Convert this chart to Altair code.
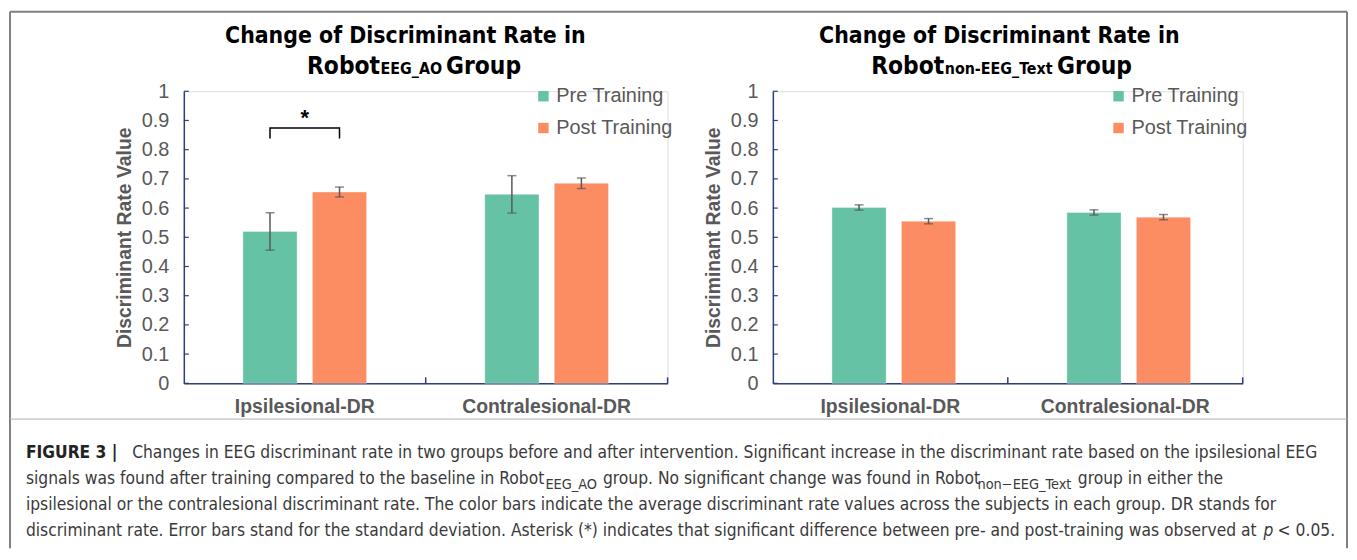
import altair as alt
import pandas as pd

# ---------------- data ----------------
categories = ["Ipsilesional-DR", "Contralesional-DR"]
phases = ["Pre Training", "Post Training"]
phase_colors = ["#66c2a5", "#fc8d62"]

ao_pre_mean = [0.520, 0.647]
ao_pre_sd = [0.064, 0.064]
ao_post_mean = [0.655, 0.685]
ao_post_sd = [0.017, 0.018]

text_pre_mean = [0.602, 0.585]
text_pre_sd = [0.009, 0.009]
text_post_mean = [0.555, 0.569]
text_post_sd = [0.009, 0.009]

y_tick_values = [0.0, 0.1, 0.2, 0.3, 0.4, 0.5, 0.6, 0.7, 0.8, 0.9, 1.0]

sig_category = "Ipsilesional-DR"
sig_low = 0.838
sig_high = 0.874
sig_star = 0.91

# ---------------- style ----------------
AXIS_COLOR = "#2f3e7e"
GRAY = "#595959"
FONT = "Liberation Sans, Arial, sans-serif"
NARROW = "Liberation Sans Narrow, DejaVu Sans Condensed, Liberation Sans, sans-serif"
H = 294

y_scale = alt.Scale(domain=[0, 1], nice=False, zero=True)
x_scale = alt.Scale(paddingInner=0, paddingOuter=0)
off_scale = alt.Scale(paddingInner=0.22, paddingOuter=0.85)

y_axis = alt.Axis(values=y_tick_values, format="~g", ticks=False,
                  labelOverlap=False, tickCount=11,
                  labelFontSize=20, labelColor=GRAY, labelFont=FONT,
                  labelPadding=15, domainColor=AXIS_COLOR,
                  domainWidth=1.5, grid=False,
                  title="Discriminant Rate Value",
                  titleFontSize=19.5, titleFontWeight="bold",
                  titleColor=GRAY, titleFont=FONT, titlePadding=7)


def label(text, x, y, size, weight="normal", align="left", font=NARROW,
          color="#000000", style="normal", baseline="alphabetic"):
    return alt.Chart(pd.DataFrame({"t": [text]})).mark_text(
        align=align, baseline=baseline, fontSize=size, fontWeight=weight,
        font=font, color=color, fontStyle=style
    ).encode(x=alt.value(x), y=alt.value(y), text="t:N")


def hrule(x1, x2, y, color="#808080", w=2):
    return alt.Chart(pd.DataFrame({"a": [0]})).mark_rule(
        color=color, strokeWidth=w
    ).encode(x=alt.value(x1), x2=alt.value(x2), y=alt.value(y))


def vrule(x, y1, y2, color="#808080", w=2):
    return alt.Chart(pd.DataFrame({"a": [0]})).mark_rule(
        color=color, strokeWidth=w
    ).encode(x=alt.value(x), y=alt.value(y1), y2=alt.value(y2))


def Y(field):
    return alt.Y(field, scale=y_scale, axis=y_axis)


def make_panel(pre_m, pre_s, post_m, post_s, width, title_parts, legend_x,
               significance=False, extra=None):
    rows = []
    for i, c in enumerate(categories):
        rows.append({"cat": c, "phase": phases[0], "value": pre_m[i],
                     "lo": pre_m[i] - pre_s[i], "hi": pre_m[i] + pre_s[i]})
        rows.append({"cat": c, "phase": phases[1], "value": post_m[i],
                     "lo": post_m[i] - post_s[i], "hi": post_m[i] + post_s[i]})
    df = pd.DataFrame(rows)

    x_axis = alt.Axis(title=None, labelAngle=0, labelFontSize=19.5,
                      labelFontWeight="bold", labelColor=GRAY,
                      labelFont=FONT, ticks=False, labelPadding=14,
                      domainColor=AXIS_COLOR, domainWidth=1.5)
    x_plain = alt.X("cat:N", sort=categories, scale=x_scale, axis=x_axis)
    off = alt.XOffset("phase:N", sort=phases, scale=off_scale)

    bars = alt.Chart(df).mark_bar(stroke="white", strokeWidth=1,
                                  strokeOpacity=0.35).encode(
        x=x_plain, xOffset=off,
        y=Y("value:Q"),
        color=alt.Color("phase:N", sort=phases,
                        scale=alt.Scale(domain=phases, range=phase_colors),
                        legend=alt.Legend(orient="none", legendX=legend_x,
                                          legendY=-5, title=None,
                                          symbolType="square", symbolSize=110,
                                          symbolStrokeWidth=0,
                                          labelFontSize=20, labelColor=GRAY,
                                          labelFont=FONT, rowPadding=12,
                                          labelOffset=3)),
    )
    err = alt.Chart(df).mark_rule(color=GRAY, strokeWidth=1.5).encode(
        x=x_plain, xOffset=off, y=Y("lo:Q"), y2="hi:Q")
    cap_lo = alt.Chart(df).mark_tick(color=GRAY, thickness=1.5, size=9).encode(
        x=x_plain, xOffset=off, y=Y("lo:Q"))
    cap_hi = alt.Chart(df).mark_tick(color=GRAY, thickness=1.5, size=9).encode(
        x=x_plain, xOffset=off, y=Y("hi:Q"))

    yt = alt.Chart(pd.DataFrame({"v": y_tick_values})).mark_rule(
        color=AXIS_COLOR, strokeWidth=1.2).encode(
        y=Y("v:Q"), x=alt.value(0), x2=alt.value(5))
    xt = alt.Chart(pd.DataFrame({"cat": categories})).mark_rule(
        color=AXIS_COLOR, strokeWidth=1.5).encode(
        x=alt.X("cat:N", sort=categories, scale=x_scale, axis=x_axis,
                bandPosition=1),
        y=alt.value(H), y2=alt.value(H - 6))

    layers = [bars, err, cap_lo, cap_hi, yt, xt]

    if significance:
        br = pd.DataFrame({
            "cat": [sig_category] * 4,
            "phase": [phases[0], phases[0], phases[1], phases[1]],
            "v": [sig_low, sig_high, sig_high, sig_low],
            "o": [0, 1, 2, 3],
        })
        layers.append(alt.Chart(br).mark_line(color="#000000", strokeWidth=1.5).encode(
            x=x_plain, xOffset=off, y=Y("v:Q"), order="o:Q"))
        star = pd.DataFrame({"cat": [sig_category], "v": [sig_star], "t": ["*"]})
        layers.append(alt.Chart(star).mark_text(fontSize=22, fontWeight="bold",
                                                font=FONT, baseline="middle",
                                                color="#000000").encode(
            x=x_plain, y=Y("v:Q"), text="t:N"))

    for t in title_parts:
        layers.append(label(*t))

    if extra:
        layers.extend(extra)

    return alt.layer(*layers).properties(width=width, height=H)


# titles (relative to each plot origin)
left_title = [
    ("Change of Discriminant Rate in", 223, -49, 23, "bold", "center"),
    ("Robot", 124, -17, 24.5, "bold"),
    ("EEG_AO", 198, -17, 16, "bold"),
    ("Group", 264, -17, 24.5, "bold"),
]
right_title = [
    ("Change of Discriminant Rate in", 228, -49, 23, "bold", "center"),
    ("Robot", 99, -17, 24.5, "bold"),
    ("non-EEG_Text", 173, -17, 16, "bold"),
    ("Group", 286, -17, 24.5, "bold"),
]

# caption + frame (relative to left plot origin at page 183, 88)
CAP = "#3a3a3a"
cap_size = 17.4
sub_size = 14.5
L1, L2, L3, L4 = 364, 390, 417, 443
OX = 183
X0 = 24 - OX
caption = [
    label("FIGURE 3 |", X0, L1, cap_size, "bold", baseline="middle", color="#222222"),
    label("Changes in EEG discriminant rate in two groups before and after intervention. "
          "Significant increase in the discriminant rate based on the ipsilesional EEG",
          131 - OX, L1, cap_size, baseline="middle", color=CAP),
    label("signals was found after training compared to the baseline in Robot",
          X0, L2, cap_size, baseline="middle", color=CAP),
    label("EEG_AO", 547 - OX, L2 + 6, sub_size, baseline="middle", color=CAP),
    label("group. No significant change was found in Robot",
          605 - OX, L2, cap_size, baseline="middle", color=CAP),
    label("non\u2212EEG_Text", 982 - OX, L2 + 6, sub_size, baseline="middle", color=CAP),
    label("group in either the", 1083 - OX, L2, cap_size, baseline="middle", color=CAP),
    label("ipsilesional or the contralesional discriminant rate. The color bars indicate the "
          "average discriminant rate values across the subjects in each group. DR stands for",
          X0, L3, cap_size, baseline="middle", color=CAP),
    label("discriminant rate. Error bars stand for the standard deviation. Asterisk (*) indicates "
          "that significant difference between pre- and post-training was observed at",
          X0, L4, cap_size, baseline="middle", color=CAP),
    label("p", 1270 - OX, L4, cap_size, style="italic", baseline="middle", color=CAP),
    label("< 0.05.", 1342 - OX, L4, cap_size, align="right", baseline="middle", color=CAP),
    hrule(-175, 1171, -80),
    vrule(-175, -80, 460),
    vrule(1171, -80, 460),
    hrule(-175, 1171, 330, color="#b0b0b0", w=1),
]

left = make_panel(ao_pre_mean, ao_pre_sd, ao_post_mean, ao_post_sd, 487,
                  left_title, 352, significance=True, extra=caption)
right = make_panel(text_pre_mean, text_pre_sd, text_post_mean, text_post_sd, 473,
                   right_title, 338)

chart = alt.hconcat(left, right, spacing=106, bounds="flush").resolve_legend(
    color="independent"
).properties(padding=0).configure_view(stroke=None).configure(background="white")

chart.save("out.html", embed_options={"renderer": "svg", "actions": False})
